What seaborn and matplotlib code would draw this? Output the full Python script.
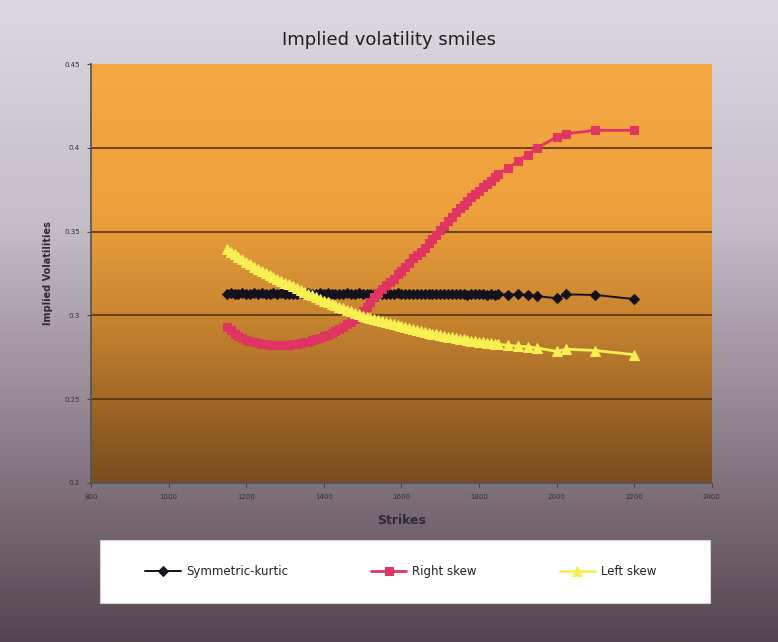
import numpy as np
import pandas as pd
import matplotlib
matplotlib.use("Agg")
import matplotlib.pyplot as plt
import seaborn as sns
from matplotlib.colors import LinearSegmentedColormap
from matplotlib.patches import Rectangle

# ---------------- data ----------------
strikes = [1150, 1160, 1170, 1180, 1190, 1200, 1210, 1220, 1230, 1240,
           1250, 1260, 1270, 1280, 1290, 1300, 1310, 1320, 1330, 1340,
           1350, 1360, 1370, 1380, 1390, 1400, 1410, 1420, 1430, 1440,
           1450, 1460, 1470, 1480, 1490, 1500, 1510, 1520, 1530, 1540,
           1550, 1560, 1570, 1580, 1590, 1600, 1610, 1620, 1630, 1640,
           1650, 1660, 1670, 1680, 1690, 1700, 1710, 1720, 1730, 1740,
           1750, 1760, 1770, 1780, 1790, 1800, 1810, 1820, 1830, 1840,
           1850, 1875, 1900, 1925, 1950, 2000, 2025, 2100, 2200]

symmetric_kurtic = [0.3128, 0.3131, 0.3127, 0.3130, 0.3132, 0.3128, 0.3130, 0.3133, 0.3129, 0.3131,
                    0.3128, 0.3130, 0.3132, 0.3129, 0.3131, 0.3128, 0.3130, 0.3127, 0.3130, 0.3132,
                    0.3129, 0.3131, 0.3128, 0.3130, 0.3133, 0.3129, 0.3131, 0.3128, 0.3130, 0.3127,
                    0.3129, 0.3131, 0.3128, 0.3130, 0.3132, 0.3129, 0.3127, 0.3130, 0.3128, 0.3131,
                    0.3129, 0.3127, 0.3130, 0.3128, 0.3131, 0.3129, 0.3127, 0.3130, 0.3128, 0.3126,
                    0.3129, 0.3127, 0.3130, 0.3128, 0.3126, 0.3129, 0.3127, 0.3125, 0.3128, 0.3126,
                    0.3128, 0.3126, 0.3124, 0.3127, 0.3125, 0.3127, 0.3125, 0.3123, 0.3126, 0.3124,
                    0.3125, 0.3124, 0.3126, 0.3121, 0.3115, 0.3102, 0.3125, 0.3122, 0.3097]

right_skew = [0.2930, 0.2915, 0.2890, 0.2875, 0.2865, 0.2855, 0.2847, 0.2840, 0.2834, 0.2830,
              0.2826, 0.2823, 0.2821, 0.2820, 0.2820, 0.2820, 0.2822, 0.2826, 0.2830, 0.2834,
              0.2838, 0.2843, 0.2850, 0.2858, 0.2866, 0.2875, 0.2885, 0.2896, 0.2908, 0.2920,
              0.2933, 0.2947, 0.2963, 0.2980, 0.3000, 0.3025, 0.3050, 0.3080, 0.3110, 0.3135,
              0.3160, 0.3180, 0.3200, 0.3220, 0.3245, 0.3265, 0.3290, 0.3315, 0.3340, 0.3360,
              0.3380, 0.3405, 0.3430, 0.3455, 0.3480, 0.3510, 0.3535, 0.3565, 0.3590, 0.3615,
              0.3640, 0.3660, 0.3685, 0.3705, 0.3725, 0.3745, 0.3765, 0.3785, 0.3805, 0.3825,
              0.3845, 0.3880, 0.3920, 0.3960, 0.4000, 0.4065, 0.4085, 0.4105, 0.4105]

left_skew = [0.3395, 0.3380, 0.3365, 0.3350, 0.3335, 0.3320, 0.3305, 0.3290, 0.3277, 0.3265,
             0.3253, 0.3241, 0.3230, 0.3218, 0.3207, 0.3196, 0.3185, 0.3174, 0.3163, 0.3152,
             0.3141, 0.3130, 0.3119, 0.3108, 0.3098, 0.3088, 0.3078, 0.3068, 0.3059, 0.3050,
             0.3041, 0.3032, 0.3023, 0.3015, 0.3007, 0.2999, 0.2992, 0.2985, 0.2978, 0.2971,
             0.2964, 0.2958, 0.2952, 0.2946, 0.2940, 0.2934, 0.2928, 0.2922, 0.2917, 0.2912,
             0.2906, 0.2901, 0.2896, 0.2891, 0.2886, 0.2881, 0.2877, 0.2872, 0.2868, 0.2864,
             0.2860, 0.2856, 0.2852, 0.2849, 0.2845, 0.2842, 0.2839, 0.2836, 0.2833, 0.2830,
             0.2827, 0.2822, 0.2815, 0.2813, 0.2805, 0.2785, 0.2798, 0.2790, 0.2765]

series_names = ["Symmetric-kurtic", "Right skew", "Left skew"]
x_ticks = [800, 1000, 1200, 1400, 1600, 1800, 2000, 2200, 2400]
x_ticklabels = ["800", "1000", "1200", "1400", "1600", "1800", "2000", "2200", "2400"]
y_ticks = [0.2, 0.25, 0.3, 0.35, 0.4, 0.45]
y_ticklabels = ["0.2", "0.25", "0.3", "0.35", "0.4", "0.45"]

df = pd.DataFrame({"Strike": strikes,
                   series_names[0]: symmetric_kurtic,
                   series_names[1]: right_skew,
                   series_names[2]: left_skew})

# ---------------- styling ----------------
sns.set_theme(style="white")
plt.rcParams["font.family"] = ["DejaVu Sans"]

fig = plt.figure(figsize=(7.78, 6.42), dpi=100)

# figure background gradient
bg = fig.add_axes([0, 0, 1, 1], zorder=-10)
bg_cmap = LinearSegmentedColormap.from_list(
    "bg", [(0.0, "#dcd8e0"), (0.35, "#c4bcc6"), (0.7, "#8a7c86"), (1.0, "#54444f")])
grad = np.linspace(0, 1, 256).reshape(-1, 1)
bg.imshow(grad, aspect="auto", cmap=bg_cmap, extent=[0, 1, 0, 1], origin="upper")
bg.set_xlim(0, 1)
bg.set_ylim(0, 1)
bg.set_axis_off()
# legend box
bg.add_patch(Rectangle((0.1285, 0.0607), 0.784, 0.098, facecolor="white",
                       edgecolor="#d0d0d0", lw=0.8, zorder=5))

ax = fig.add_axes([0.117, 0.248, 0.798, 0.652])

# plot area gradient (orange -> brown)
pa_cmap = LinearSegmentedColormap.from_list(
    "pa", [(0.0, "#f4a843"), (0.35, "#eea03c"), (0.6, "#c98530"), (1.0, "#7a4c1e")])
ax.imshow(grad, aspect="auto", cmap=pa_cmap, extent=[800, 2400, 0.2, 0.45],
          origin="upper", zorder=0)

for yv in [0.25, 0.3, 0.35, 0.4]:
    ax.axhline(yv, color="#4a2a08", lw=1.1, zorder=1)

styles = [
    dict(color="#15121e", marker="D", markersize=5, lw=1.4),
    dict(color="#e03462", marker="s", markersize=5.5, lw=2.0),
    dict(color="#f8f052", marker="^", markersize=6.5, lw=2.0),
]
for name, st in zip(series_names, styles):
    sns.lineplot(data=df, x="Strike", y=name, ax=ax, label=name, sort=False,
                 color=st["color"], marker=st["marker"], markersize=st["markersize"],
                 markeredgecolor=st["color"], linewidth=st["lw"], zorder=3, legend=False)

ax.set_xlim(800, 2400)
ax.set_ylim(0.2, 0.45)
ax.set_xticks(x_ticks)
ax.set_xticklabels(x_ticklabels, fontsize=5, color="#333333")
ax.set_yticks(y_ticks)
ax.set_yticklabels(y_ticklabels, fontsize=5, color="#333333")
ax.tick_params(axis="both", length=3, width=0.8, color="#444444", direction="out", pad=5)
ax.tick_params(axis="x", bottom=True)
ax.tick_params(axis="y", left=True)
for s in ["top", "right"]:
    ax.spines[s].set_visible(False)
ax.spines["left"].set_color("#555555")
ax.spines["bottom"].set_color("#555555")

ax.set_xlabel("Strikes", fontsize=9, fontweight="bold", color="#2e2a36", labelpad=10)
ax.set_ylabel("Implied Volatilities", fontsize=7, fontweight="bold", color="#2e2a36", labelpad=8)
fig.text(0.5, 0.937, "Implied volatility smiles", ha="center", va="center",
         fontsize=13, color="#1e1e1e")

handles, labels = ax.get_legend_handles_labels()
leg = fig.legend(handles, labels, loc="center", bbox_to_anchor=(0.515, 0.1097),
                 ncol=3, frameon=False, fontsize=8.5, handlelength=3,
                 columnspacing=7, handletextpad=0.5)
for t in leg.get_texts():
    t.set_color("#222222")

fig.savefig("out.png", dpi=100)
